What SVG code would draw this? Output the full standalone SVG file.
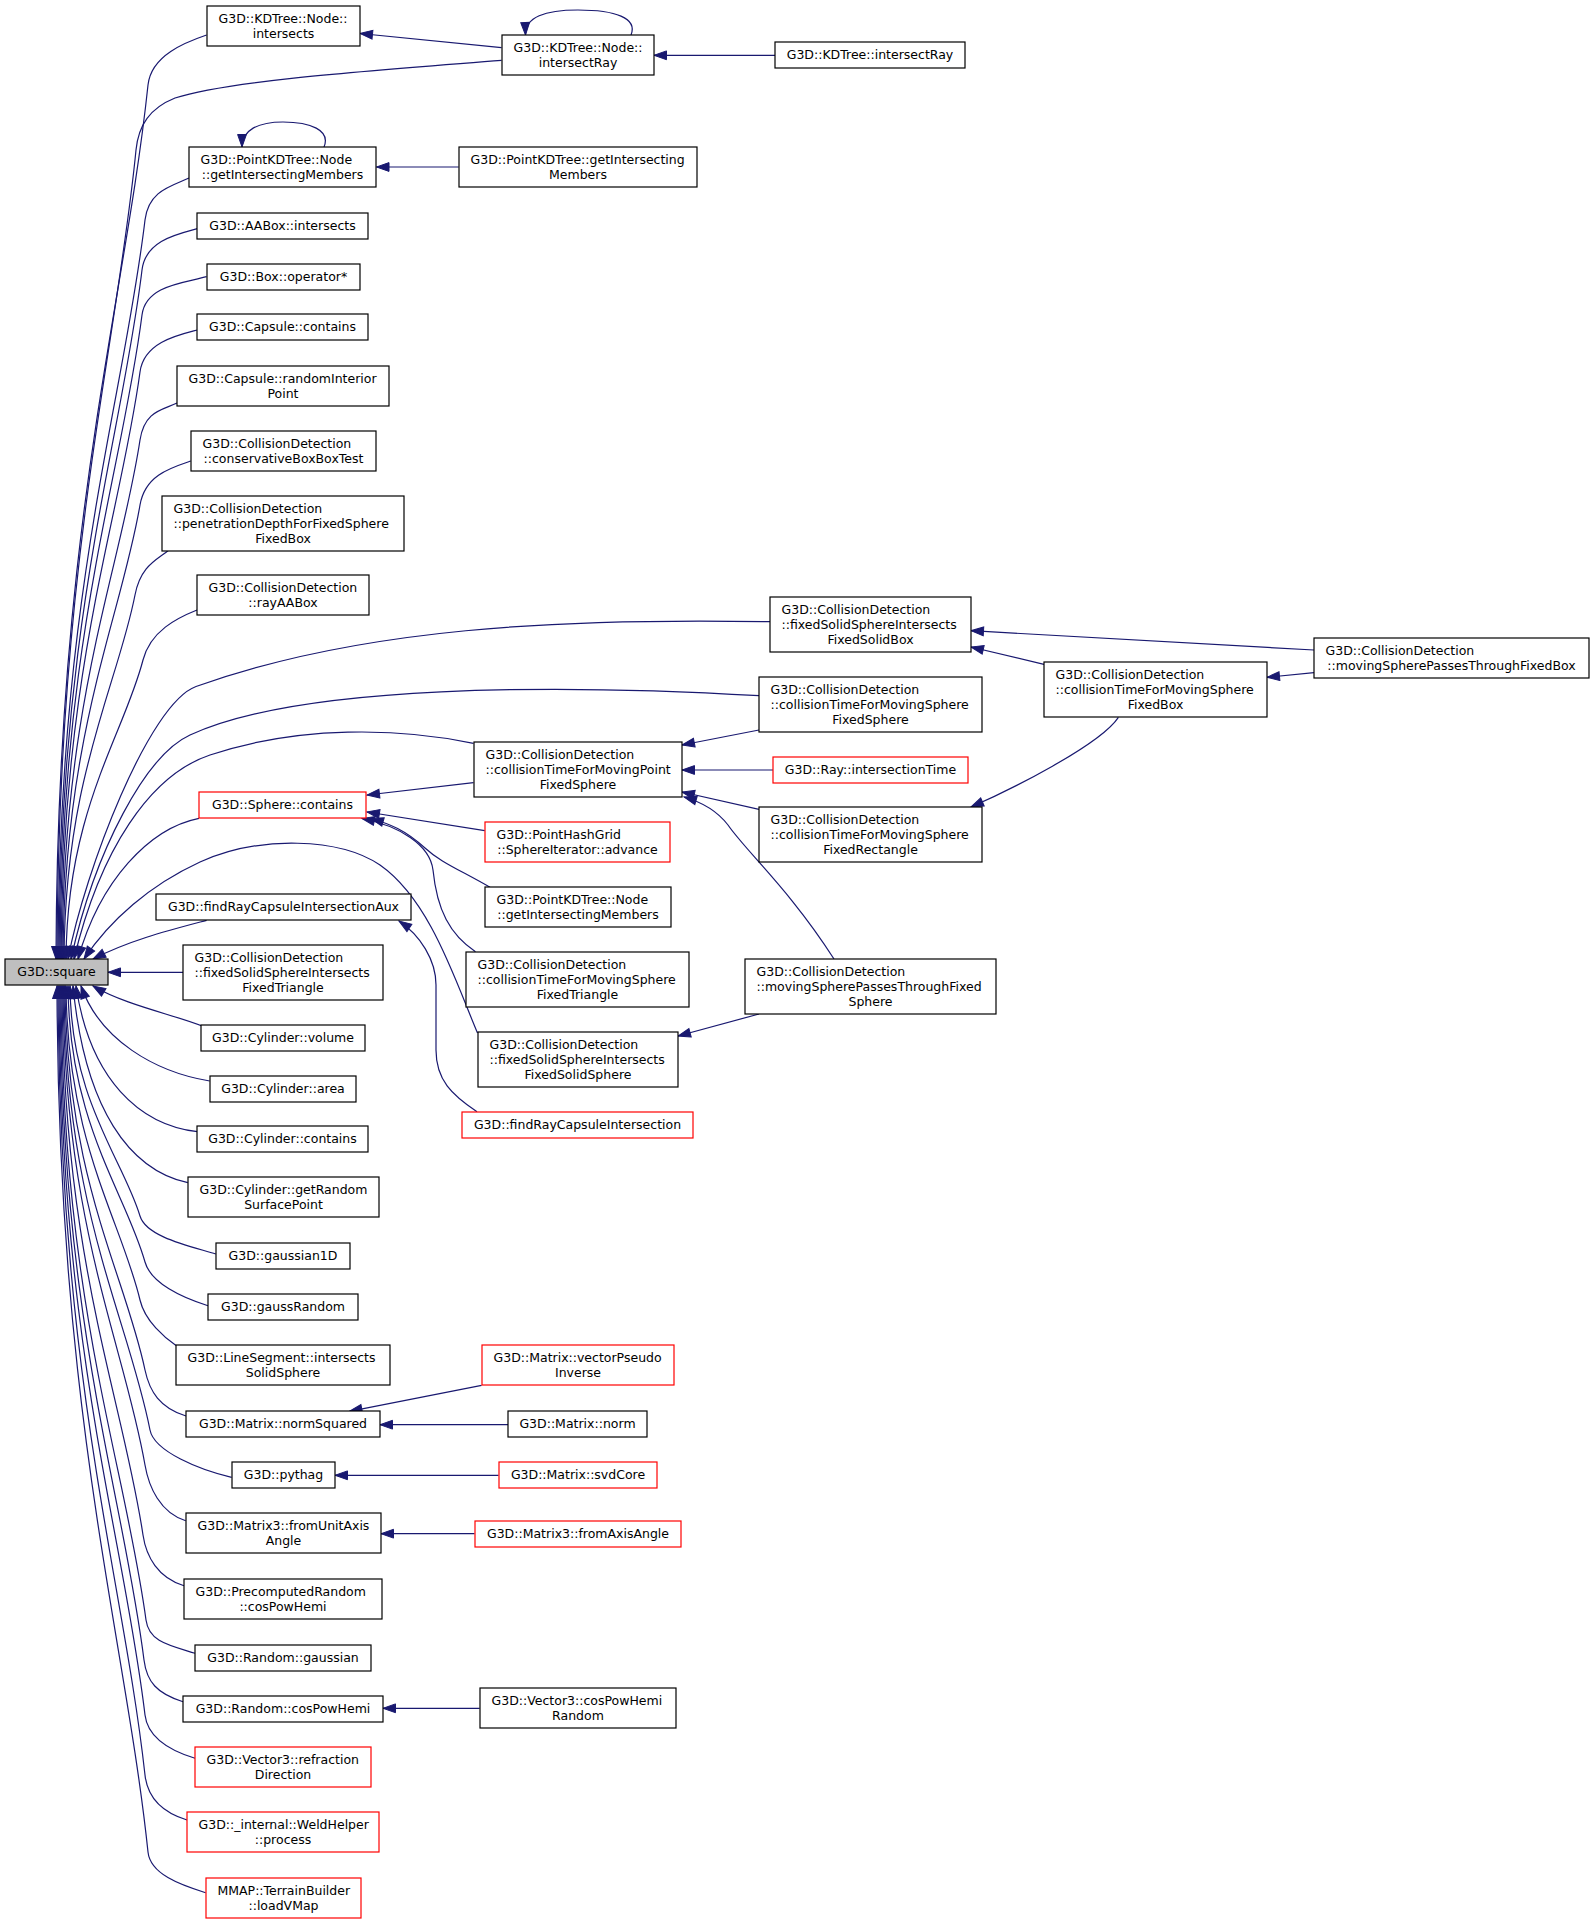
<svg xmlns="http://www.w3.org/2000/svg" width="1595" height="1924" viewBox="0 0 1595 1924">
<style>
rect{fill:#fff;stroke:#000;stroke-width:1.2}
.r rect{stroke:#f00}
.g rect{fill:#bfbfbf}
text{font-family:"DejaVu Sans","Liberation Sans",sans-serif;font-size:12.5px;fill:#000}
.c{text-anchor:middle}
#edges path{fill:none;stroke:#191970;stroke-width:1.2;marker-end:url(#a)}
</style>
<defs>
<marker id="a" markerUnits="userSpaceOnUse" markerWidth="14" markerHeight="10" refX="12.5" refY="4.4" orient="auto" overflow="visible"><path d="M0,0 L12.5,4.4 L0,8.8 Z" fill="#191970" stroke="#191970" stroke-width="1"/></marker>
</defs>
<rect x="0" y="0" width="1595" height="1924" style="fill:#fff;stroke:none"/>
<g id="edges">
<path d="M206.6,35 C186,42 151.1,55.2 148,85 C124.9,303.6 57,522 56,959"/>
<path d="M501.5,60.3 C380,70 230,80 175,98 C150,108 138.5,125 136,150 C116.3,352.2 58,554.5 57,959"/>
<path d="M189,178 C172,186 148.5,190.2 145,220 C123.2,404.7 59,589.5 58,959"/>
<path d="M197.4,228.7 C178,234 145.6,240.2 142,270 C121.2,442.3 60,614.5 59,959"/>
<path d="M206.6,276.7 C184,283 145.8,285.2 142,315 C121.6,476 61,637 60,959"/>
<path d="M197.4,330 C178,335 144,342.3 140,372 C120.3,518.7 62,665.5 61,959"/>
<path d="M177,403 C163,410 144.5,410.3 140,440 C120.5,569.8 63,699.5 62,959"/>
<path d="M190.8,461 C170,468 145,475.4 140,505 C120.8,618.5 64,732 63,959"/>
<path d="M168,550.7 C157,560 140.7,565.6 135,595 C117.3,685.9 65,777 64,959"/>
<path d="M197,610 C177,618 150.5,631 143,660 C123.8,734.7 67,809.5 66,959"/>
<path d="M770,621.7 C560,618 360,628 196,686.5 C149,703.5 85,870 68,959"/>
<path d="M759,695.7 C560,684 300,684 190,735 C146,755 95,850 71,959"/>
<path d="M473.5,743.3 C400,728 300,725 210,755 C150,775 100,850 74,959"/>
<path d="M199,818.3 C150,828 100,880 78,959"/>
<path d="M477.5,1033 C455,980 430,900 380,865 C340,838 260,835 200,862 C150,885 110,920 84,959"/>
<path d="M206.6,920.3 C170,930 130,940 93,959"/>
<path d="M183,972.3 L108,972.3"/>
<path d="M202,1026 C175,1015 125,1005 93,986"/>
<path d="M209.7,1081 C155,1072 100,1040 81,986"/>
<path d="M197.4,1131.7 C140,1125 90,1080 76,986"/>
<path d="M187.8,1182.7 C130,1170 85,1110 73,986"/>
<path d="M215.8,1254 C189.8,1246 146.4,1237.1 140,1216 C122.5,1158.4 71,1101 70,986"/>
<path d="M208,1305.7 C182,1297.7 150.9,1283.2 145,1262 C125.8,1192.9 69,1124 68,986"/>
<path d="M176,1345.5 C165,1338 145,1321.4 140,1300 C121.5,1221.4 67,1143 66,986"/>
<path d="M186,1416 C160,1408 149.5,1391.5 145,1370 C125,1273.9 66,1178 65,986"/>
<path d="M231.6,1477.3 C200,1470 154.2,1451.6 150,1430 C128.5,1318.8 65,1208 64,986"/>
<path d="M185.7,1520.7 C160,1512.7 148.7,1486.7 145,1465 C124.4,1345.1 64,1225.5 63,986"/>
<path d="M184,1585.7 C158,1577.7 146.2,1556.8 143,1535 C122.7,1397.6 63,1260.5 62,986"/>
<path d="M195,1653.3 C169,1645.3 148.9,1641.8 146,1620 C124.7,1461.4 62,1303 61,986"/>
<path d="M183,1701.7 C157,1693.7 146.7,1681.8 144,1660 C122.9,1491.4 61,1323 60,986"/>
<path d="M195,1758.3 C169,1750.3 147.6,1736.8 145,1715 C123.5,1532.7 60,1350.5 59,986"/>
<path d="M187,1820 C161,1812 147.4,1796.9 145,1775 C123.2,1577.6 59,1380.5 58,986"/>
<path d="M205.6,1892.7 C179.6,1884.7 150.3,1873.9 148,1852 C125.3,1635.5 58,1419 57,986"/>
<path d="M501.5,47.7 L360,33.5"/>
<path d="M775,55.3 L654,55.3"/>
<path d="M631,35 C638,18 615,10 578,10 C545,10 525,17 525.5,35"/>
<path d="M458.7,167 L376.5,167"/>
<path d="M324,147 C331,130 310,122 283,122 C258,122 242,130 242,147"/>
<path d="M1314,650 L971,630.7"/>
<path d="M1044,664.3 L971,647"/>
<path d="M1314,672.7 L1267,677.3"/>
<path d="M1118.4,717.3 C1100,745 1010,790 971,807"/>
<path d="M759,730 L682,745"/>
<path d="M773,770 L682,770"/>
<path d="M759,809.3 L682,792"/>
<path d="M834,959 C790,890 745,850 728,825 C718,812 705,803 684,797"/>
<path d="M473.5,782.7 L367,795"/>
<path d="M484.7,830.7 L367,812"/>
<path d="M490,887.3 C460,870 440,862 425,848 C405,830 390,824 371,818.5"/>
<path d="M475.5,951.7 C450,935 437,910 433,870 C430,845 400,826 362,818.5"/>
<path d="M477,1111.7 C452,1095 436,1080 436,1050 L436,985 C436,960 420,935 399,921"/>
<path d="M759,1014 L678,1036"/>
<path d="M481.6,1385.3 L349.5,1411.3"/>
<path d="M508,1424.7 L380,1424.7"/>
<path d="M498.5,1475.3 L335,1475.3"/>
<path d="M474.5,1533.7 L381,1533.7"/>
<path d="M479.6,1708.3 L383,1708.3"/>
</g>
<g id="n1"><rect x="207" y="6" width="153" height="40"/><text x="218.5" y="22.8">G3D::KDTree::Node::</text><text class="c" x="283.5" y="37.8">intersects</text></g>
<g id="n2"><rect x="502" y="35" width="152" height="40"/><text x="513.5" y="51.8">G3D::KDTree::Node::</text><text class="c" x="578" y="66.8">intersectRay</text></g>
<g id="n3"><rect x="775" y="42" width="190" height="26"/><text class="c" x="870" y="59.3">G3D::KDTree::intersectRay</text></g>
<g id="n4"><rect x="189" y="147" width="187" height="40"/><text x="200.5" y="163.8">G3D::PointKDTree::Node</text><text class="c" x="282.5" y="178.8">::getIntersectingMembers</text></g>
<g id="n5"><rect x="459" y="147" width="238" height="40"/><text x="470.5" y="163.8">G3D::PointKDTree::getIntersecting</text><text class="c" x="578" y="178.8">Members</text></g>
<g id="n6"><rect x="197" y="213" width="171" height="26"/><text class="c" x="282.5" y="230.3">G3D::AABox::intersects</text></g>
<g id="n7"><rect x="207" y="264" width="153" height="26"/><text class="c" x="283.5" y="281.3">G3D::Box::operator*</text></g>
<g id="n8"><rect x="197" y="314" width="171" height="26"/><text class="c" x="282.5" y="331.3">G3D::Capsule::contains</text></g>
<g id="n9"><rect x="177" y="366" width="212" height="40"/><text x="188.5" y="382.8">G3D::Capsule::randomInterior</text><text class="c" x="283" y="397.8">Point</text></g>
<g id="n10"><rect x="191" y="431" width="185" height="40"/><text x="202.5" y="447.8">G3D::CollisionDetection</text><text class="c" x="283.5" y="462.8">::conservativeBoxBoxTest</text></g>
<g id="n11"><rect x="162" y="496" width="242" height="55"/><text x="173.5" y="512.8">G3D::CollisionDetection</text><text x="173.5" y="527.8">::penetrationDepthForFixedSphere</text><text class="c" x="283" y="542.8">FixedBox</text></g>
<g id="n12"><rect x="197" y="575" width="172" height="40"/><text x="208.5" y="591.8">G3D::CollisionDetection</text><text class="c" x="283" y="606.8">::rayAABox</text></g>
<g id="n13"><rect x="770" y="597" width="201" height="55"/><text x="781.5" y="613.8">G3D::CollisionDetection</text><text x="781.5" y="628.8">::fixedSolidSphereIntersects</text><text class="c" x="870.5" y="643.8">FixedSolidBox</text></g>
<g id="n14"><rect x="759" y="677" width="223" height="55"/><text x="770.5" y="693.8">G3D::CollisionDetection</text><text x="770.5" y="708.8">::collisionTimeForMovingSphere</text><text class="c" x="870.5" y="723.8">FixedSphere</text></g>
<g id="n15"><rect x="1314" y="638" width="275" height="40"/><text x="1325.5" y="654.8">G3D::CollisionDetection</text><text class="c" x="1451.5" y="669.8">::movingSpherePassesThroughFixedBox</text></g>
<g id="n16"><rect x="1044" y="662" width="223" height="55"/><text x="1055.5" y="678.8">G3D::CollisionDetection</text><text x="1055.5" y="693.8">::collisionTimeForMovingSphere</text><text class="c" x="1155.5" y="708.8">FixedBox</text></g>
<g id="n17"><rect x="474" y="742" width="208" height="55"/><text x="485.5" y="758.8">G3D::CollisionDetection</text><text x="485.5" y="773.8">::collisionTimeForMovingPoint</text><text class="c" x="578" y="788.8">FixedSphere</text></g>
<g id="n18" class="r"><rect x="773" y="757" width="195" height="26"/><text class="c" x="870.5" y="774.3">G3D::Ray::intersectionTime</text></g>
<g id="n19"><rect x="759" y="807" width="223" height="55"/><text x="770.5" y="823.8">G3D::CollisionDetection</text><text x="770.5" y="838.8">::collisionTimeForMovingSphere</text><text class="c" x="870.5" y="853.8">FixedRectangle</text></g>
<g id="n20" class="r"><rect x="199" y="792" width="167" height="26"/><text class="c" x="282.5" y="809.3">G3D::Sphere::contains</text></g>
<g id="n21" class="r"><rect x="485" y="822" width="185" height="40"/><text x="496.5" y="838.8">G3D::PointHashGrid</text><text class="c" x="577.5" y="853.8">::SphereIterator::advance</text></g>
<g id="n22"><rect x="485" y="887" width="186" height="40"/><text x="496.5" y="903.8">G3D::PointKDTree::Node</text><text class="c" x="578" y="918.8">::getIntersectingMembers</text></g>
<g id="n23"><rect x="156" y="894" width="255" height="26"/><text class="c" x="283.5" y="911.3">G3D::findRayCapsuleIntersectionAux</text></g>
<g id="n24" class="g"><rect x="5" y="959" width="103" height="26"/><text class="c" x="56.5" y="976.3">G3D::square</text></g>
<g id="n25"><rect x="183" y="945" width="200" height="55"/><text x="194.5" y="961.8">G3D::CollisionDetection</text><text x="194.5" y="976.8">::fixedSolidSphereIntersects</text><text class="c" x="283" y="991.8">FixedTriangle</text></g>
<g id="n26"><rect x="745" y="959" width="251" height="55"/><text x="756.5" y="975.8">G3D::CollisionDetection</text><text x="756.5" y="990.8">::movingSpherePassesThroughFixed</text><text class="c" x="870.5" y="1005.8">Sphere</text></g>
<g id="n27"><rect x="466" y="952" width="223" height="55"/><text x="477.5" y="968.8">G3D::CollisionDetection</text><text x="477.5" y="983.8">::collisionTimeForMovingSphere</text><text class="c" x="577.5" y="998.8">FixedTriangle</text></g>
<g id="n28"><rect x="478" y="1032" width="200" height="55"/><text x="489.5" y="1048.8">G3D::CollisionDetection</text><text x="489.5" y="1063.8">::fixedSolidSphereIntersects</text><text class="c" x="578" y="1078.8">FixedSolidSphere</text></g>
<g id="n29" class="r"><rect x="462" y="1112" width="231" height="26"/><text class="c" x="577.5" y="1129.3">G3D::findRayCapsuleIntersection</text></g>
<g id="n30"><rect x="201" y="1025" width="164" height="26"/><text class="c" x="283" y="1042.3">G3D::Cylinder::volume</text></g>
<g id="n31"><rect x="210" y="1076" width="146" height="26"/><text class="c" x="283" y="1093.3">G3D::Cylinder::area</text></g>
<g id="n32"><rect x="197" y="1126" width="171" height="26"/><text class="c" x="282.5" y="1143.3">G3D::Cylinder::contains</text></g>
<g id="n33"><rect x="188" y="1177" width="191" height="40"/><text x="199.5" y="1193.8">G3D::Cylinder::getRandom</text><text class="c" x="283.5" y="1208.8">SurfacePoint</text></g>
<g id="n34"><rect x="216" y="1243" width="134" height="26"/><text class="c" x="283" y="1260.3">G3D::gaussian1D</text></g>
<g id="n35"><rect x="208" y="1294" width="150" height="26"/><text class="c" x="283" y="1311.3">G3D::gaussRandom</text></g>
<g id="n36"><rect x="176" y="1345" width="214" height="40"/><text x="187.5" y="1361.8">G3D::LineSegment::intersects</text><text class="c" x="283" y="1376.8">SolidSphere</text></g>
<g id="n37" class="r"><rect x="482" y="1345" width="192" height="40"/><text x="493.5" y="1361.8">G3D::Matrix::vectorPseudo</text><text class="c" x="578" y="1376.8">Inverse</text></g>
<g id="n38"><rect x="186" y="1411" width="194" height="26"/><text class="c" x="283" y="1428.3">G3D::Matrix::normSquared</text></g>
<g id="n39"><rect x="508" y="1411" width="139" height="26"/><text class="c" x="577.5" y="1428.3">G3D::Matrix::norm</text></g>
<g id="n40"><rect x="232" y="1462" width="103" height="26"/><text class="c" x="283.5" y="1479.3">G3D::pythag</text></g>
<g id="n41" class="r"><rect x="499" y="1462" width="158" height="26"/><text class="c" x="578" y="1479.3">G3D::Matrix::svdCore</text></g>
<g id="n42"><rect x="186" y="1513" width="195" height="40"/><text x="197.5" y="1529.8">G3D::Matrix3::fromUnitAxis</text><text class="c" x="283.5" y="1544.8">Angle</text></g>
<g id="n43" class="r"><rect x="475" y="1521" width="206" height="26"/><text class="c" x="578" y="1538.3">G3D::Matrix3::fromAxisAngle</text></g>
<g id="n44"><rect x="184" y="1579" width="198" height="40"/><text x="195.5" y="1595.8">G3D::PrecomputedRandom</text><text class="c" x="283" y="1610.8">::cosPowHemi</text></g>
<g id="n45"><rect x="195" y="1645" width="176" height="26"/><text class="c" x="283" y="1662.3">G3D::Random::gaussian</text></g>
<g id="n46"><rect x="183" y="1696" width="200" height="26"/><text class="c" x="283" y="1713.3">G3D::Random::cosPowHemi</text></g>
<g id="n47"><rect x="480" y="1688" width="196" height="40"/><text x="491.5" y="1704.8">G3D::Vector3::cosPowHemi</text><text class="c" x="578" y="1719.8">Random</text></g>
<g id="n48" class="r"><rect x="195" y="1747" width="176" height="40"/><text x="206.5" y="1763.8">G3D::Vector3::refraction</text><text class="c" x="283" y="1778.8">Direction</text></g>
<g id="n49" class="r"><rect x="187" y="1812" width="192" height="40"/><text x="198.5" y="1828.8">G3D::_internal::WeldHelper</text><text class="c" x="283" y="1843.8">::process</text></g>
<g id="n50" class="r"><rect x="206" y="1878" width="155" height="40"/><text x="217.5" y="1894.8">MMAP::TerrainBuilder</text><text class="c" x="283.5" y="1909.8">::loadVMap</text></g>
</svg>
